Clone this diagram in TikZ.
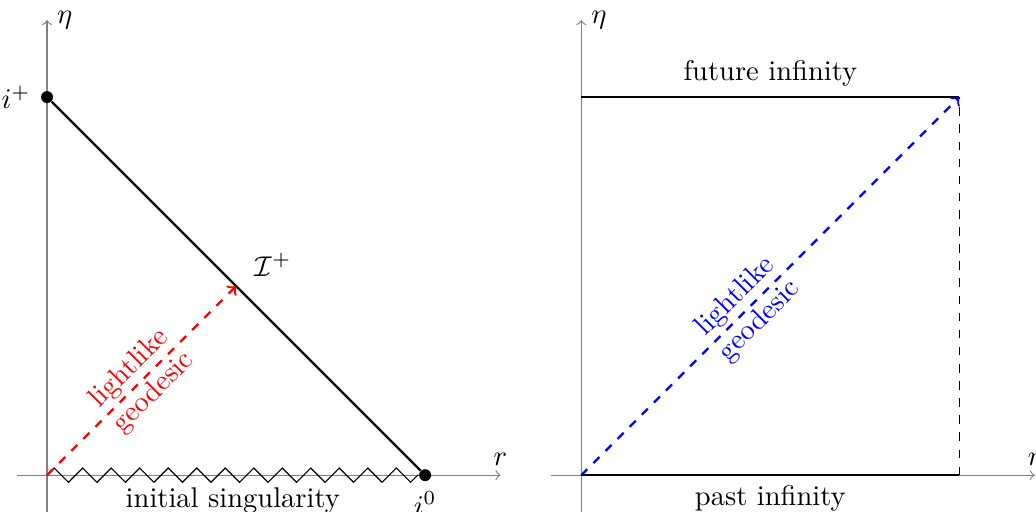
\documentclass[tikz,border=0pt]{standalone}
\usepackage{amsmath}
\usetikzlibrary{decorations.pathmorphing, positioning}
\tikzset{
  axis/.style = {->, gray},
  axislabel/.style = {text=black},
  boundary/.style = {thick},
  geodesic/.style = {->, dashed, thick},
  endpoint/.style = {circle, fill=black, inner sep=0pt, minimum size=4.2pt},
  singularity/.style = {decorate, decoration={zigzag}}
}

\begin{document}
\begin{tikzpicture}
\useasboundingbox (-0.58,-0.444) rectangle (12.19,5.857);
\def\side{4.66}

% Left diagram: axes
\coordinate (lxs) at (-0.37,0);
\coordinate (lxe) at (5.59,0);
\coordinate (lys) at (0,-0.5);
\coordinate (lye) at (0,5.61);
\draw[axis] (lxs) -- (lxe) node[axislabel, above] {$r$};
\draw[axis] (lys) -- (lye) node[axislabel, right] {$\eta$};

% Left diagram: boundary
\coordinate (lo) at (0,0);
\coordinate (scri) at (\side/2,\side/2);
\node[endpoint, label=left:$i^+$] (iplus) at (0,\side) {};
\node[endpoint, label=below:$i^0$] (izero) at (\side,0) {};

\draw[boundary] (iplus) -- (izero);
\node[above right=0pt and 3pt of scri] (scrilabel) {$\mathcal{I}^+$};
\draw[singularity] (lo) -- (izero) node[midway, below=1pt] {initial singularity};
\draw[geodesic, red] (lo) -- (scri) node[midway, sloped, align=center] {lightlike\\geodesic};

% Right diagram
\begin{scope}[xshift=6.585cm]
\coordinate (rxs) at (-0.37,0);
\coordinate (rxe) at (5.59,0);
\coordinate (rys) at (0,-0.5);
\coordinate (rye) at (0,5.61);
\draw[axis] (rxs) -- (rxe) node[axislabel, above] {$r$};
\draw[axis] (rys) -- (rye) node[axislabel, right] {$\eta$};

\coordinate (po) at (0,0);
\coordinate (pa) at (\side,0);
\coordinate (pb) at (\side,\side);
\coordinate (pc) at (0,\side);

\draw[boundary] (pc) -- (pb) node[midway, above] {future infinity};
\draw[boundary] (po) -- (pa) node[midway, below] {past infinity};
\draw[dashed] (pa) -- (pb);
\draw[geodesic, blue] (po) -- (pb) node[pos=0.44, sloped, align=center] {lightlike\\geodesic};
\end{scope}

\end{tikzpicture}
\end{document}
